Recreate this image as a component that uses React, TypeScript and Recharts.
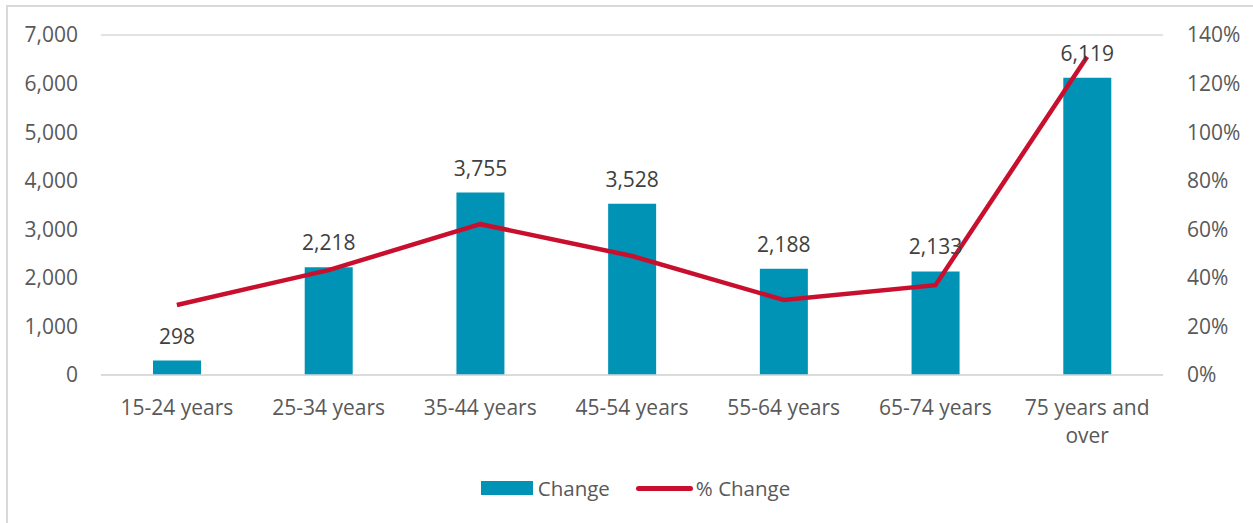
import React from "react";
import {
  ComposedChart,
  Bar,
  Line,
  XAxis,
  YAxis,
  CartesianGrid,
  Legend,
  LabelList,
} from "recharts";

const categories = [
  "15-24 years",
  "25-34 years",
  "35-44 years",
  "45-54 years",
  "55-64 years",
  "65-74 years",
  "75 years and over",
];
const changeValues = [298, 2218, 3755, 3528, 2188, 2133, 6119];
const pctChangeValues = [0.288, 0.432, 0.621, 0.49, 0.309, 0.37, 1.31];
const leftTicks = [0, 1000, 2000, 3000, 4000, 5000, 6000, 7000];
const rightTicks = [0, 0.2, 0.4, 0.6, 0.8, 1.0, 1.2, 1.4];

const data = categories.map((c, i) => ({
  name: c,
  change: changeValues[i],
  pct: pctChangeValues[i],
}));

const FONT = "'Open Sans', sans-serif";
const TEXT = "#595959";
const BAR = "#0093B5";
const LINE = "#C8102E";
const FS = 21;

const XTick = (props: any) => {
  const { x, y, payload } = props;
  const words = String(payload.value).split(" ");
  const lines: string[] = [];
  let cur = "";
  words.forEach((w) => {
    const t = cur ? cur + " " + w : w;
    if (t.length > 12 && cur) {
      lines.push(cur);
      cur = w;
    } else cur = t;
  });
  if (cur) lines.push(cur);
  return (
    <text
      x={x}
      y={y + 38}
      textAnchor="middle"
      fill={TEXT}
      fontSize={FS}
      fontFamily={FONT}
    >
      {lines.map((l, i) => (
        <tspan key={i} x={x} dy={i === 0 ? 0 : 28}>
          {l}
        </tspan>
      ))}
    </text>
  );
};

const LegendContent = () => (
  <div
    style={{
      display: "flex",
      justifyContent: "center",
      alignItems: "center",
      fontFamily: FONT,
      fontSize: 20.5,
      color: TEXT,
      paddingLeft: 18,
    }}
  >
    <div style={{ display: "flex", alignItems: "center", marginRight: 26 }}>
      <div style={{ width: 52, height: 14, background: BAR, marginRight: 5 }} />
      <span>Change</span>
    </div>
    <div style={{ display: "flex", alignItems: "center" }}>
      <div
        style={{
          width: 57,
          height: 5,
          background: LINE,
          borderRadius: 3,
          marginRight: 3,
        }}
      />
      <span>% Change</span>
    </div>
  </div>
);

export default function App() {
  return (
    <div style={{ position: "absolute", left: 0, top: 0, width: 1253, height: 523, overflow: "hidden", background: "#fff" }}>
      <div
        style={{
          position: "absolute",
          left: 6,
          top: 5,
          width: 1270,
          height: 540,
          border: "2px solid #d9d9d9",
        }}
      />
      <div style={{ position: "absolute", left: 0, top: 0 }}>
        <ComposedChart
          width={1253}
          height={523}
          data={data}
          margin={{ top: 35, right: 0, left: 0, bottom: 88 }}
          barCategoryGap={0}
        >
          <CartesianGrid vertical={false} stroke="#d9d9d9" strokeWidth={1.5} />
          <XAxis
            dataKey="name"
            xAxisId={0}
            height={60}
            tickLine={false}
            tickSize={0}
            axisLine={{ stroke: "#d9d9d9", strokeWidth: 1.5 }}
            tick={<XTick />}
            interval={0}
          />
          <YAxis
            yAxisId="left"
            orientation="left"
            width={101}
            domain={[0, 7000]}
            ticks={leftTicks}
            tickFormatter={(v: number) => v.toLocaleString("en-US")}
            axisLine={false}
            tickLine={false}
            tickSize={0}
            tickMargin={23}
            tick={{ fill: TEXT, fontSize: FS, fontFamily: FONT }}
          />
          <YAxis
            yAxisId="right"
            orientation="right"
            width={90}
            domain={[0, 1.4]}
            ticks={rightTicks}
            tickFormatter={(v: number) => `${Math.round(v * 100)}%`}
            axisLine={false}
            tickLine={false}
            tickSize={0}
            tickMargin={24}
            tick={{ fill: TEXT, fontSize: FS, fontFamily: FONT, textAnchor: "start" }}
          />
          <Legend
            verticalAlign="middle"
            align="center"
            layout="horizontal"
            wrapperStyle={{ top: 474, left: 0, width: 1253 }}
            content={<LegendContent />}
          />
          <Bar
            yAxisId="left"
            dataKey="change"
            name="Change"
            fill={BAR}
            barSize={48}
            isAnimationActive={false}
          >
            <LabelList
              dataKey="change"
              position="top"
              offset={17}
              formatter={(v: any) => Number(v).toLocaleString("en-US")}
              fill="#404040"
              fontSize={FS}
              fontFamily={FONT}
            />
          </Bar>
          <Line
            yAxisId="right"
            dataKey="pct"
            name="% Change"
            type="linear"
            stroke={LINE}
            strokeWidth={4.5}
            dot={false}
            activeDot={false}
            isAnimationActive={false}
          />
        </ComposedChart>
      </div>
    </div>
  );
}
